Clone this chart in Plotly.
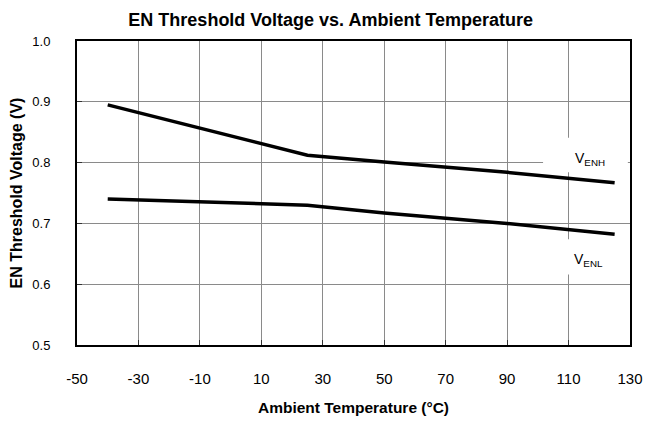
import plotly.graph_objects as go

temp_h = [-40, 25, 50, 90, 125]
venh = [0.895, 0.812, 0.801, 0.784, 0.767]
temp_l = [-40, 25, 50, 90, 125]
venl = [0.740, 0.730, 0.717, 0.700, 0.682]

xticks = [-50, -30, -10, 10, 30, 50, 70, 90, 110, 130]
yticks = [0.5, 0.6, 0.7, 0.8, 0.9, 1.0]

FONT = "Liberation Sans, Arial, sans-serif"

fig = go.Figure()
fig.add_trace(go.Scatter(x=temp_h, y=venh, mode="lines", line=dict(color="black", width=3.5), showlegend=False))
fig.add_trace(go.Scatter(x=temp_l, y=venl, mode="lines", line=dict(color="black", width=3.5), showlegend=False))

# white label boxes that cover gridlines
fig.add_shape(type="rect", x0=101.7, x1=129.3, y0=0.784, y1=0.841, line=dict(width=0), fillcolor="white", layer="above")
fig.add_shape(type="rect", x0=101.7, x1=129.3, y0=0.616, y1=0.674, line=dict(width=0), fillcolor="white", layer="above")

fig.add_annotation(x=117, y=0.806, text="V<sub>ENH</sub>", showarrow=False, xanchor="center", yanchor="middle",
                   font=dict(family=FONT, size=14, color="black"))
fig.add_annotation(x=116.5, y=0.639, text="V<sub>ENL</sub>", showarrow=False, xanchor="center", yanchor="middle",
                   font=dict(family=FONT, size=14, color="black"))

fig.update_layout(
    width=652, height=413,
    margin=dict(l=69, r=30, t=33, b=76),
    paper_bgcolor="white", plot_bgcolor="white",
    font=dict(family=FONT, size=12, color="black"),
    title=dict(text="<b>EN Threshold Voltage vs. Ambient Temperature</b>", x=0.495, xref="container",
               xanchor="center", y=0.972, yanchor="middle", automargin=False,
               font=dict(family=FONT, size=18, color="black")),
)
fig.update_xaxes(range=[-50, 130], tickvals=xticks, ticktext=[str(v) for v in xticks],
                 showgrid=True, gridcolor="#8a8a8a", gridwidth=1.3, automargin=False,
                 showline=True, linecolor="black", linewidth=2, mirror=True,
                 ticks="inside", ticklen=5, tickcolor="#333", zeroline=False,
                 ticklabelstandoff=19, tickfont=dict(size=15),
                 title=dict(text="<b>Ambient Temperature (°C)</b>", font=dict(size=15.5), standoff=16))
fig.update_yaxes(range=[0.5, 1.0], tickvals=yticks, ticktext=[f"{v:.1f}" for v in yticks],
                 showgrid=True, gridcolor="#8a8a8a", gridwidth=1.3, automargin=False,
                 showline=True, linecolor="black", linewidth=2, mirror=True,
                 ticks="inside", ticklen=5, tickcolor="#333", zeroline=False,
                 ticklabelstandoff=22, tickfont=dict(size=13),
                 title=dict(text="<b>EN Threshold Voltage (V)</b>", font=dict(size=16), standoff=8))

fig.write_html("out.html")
